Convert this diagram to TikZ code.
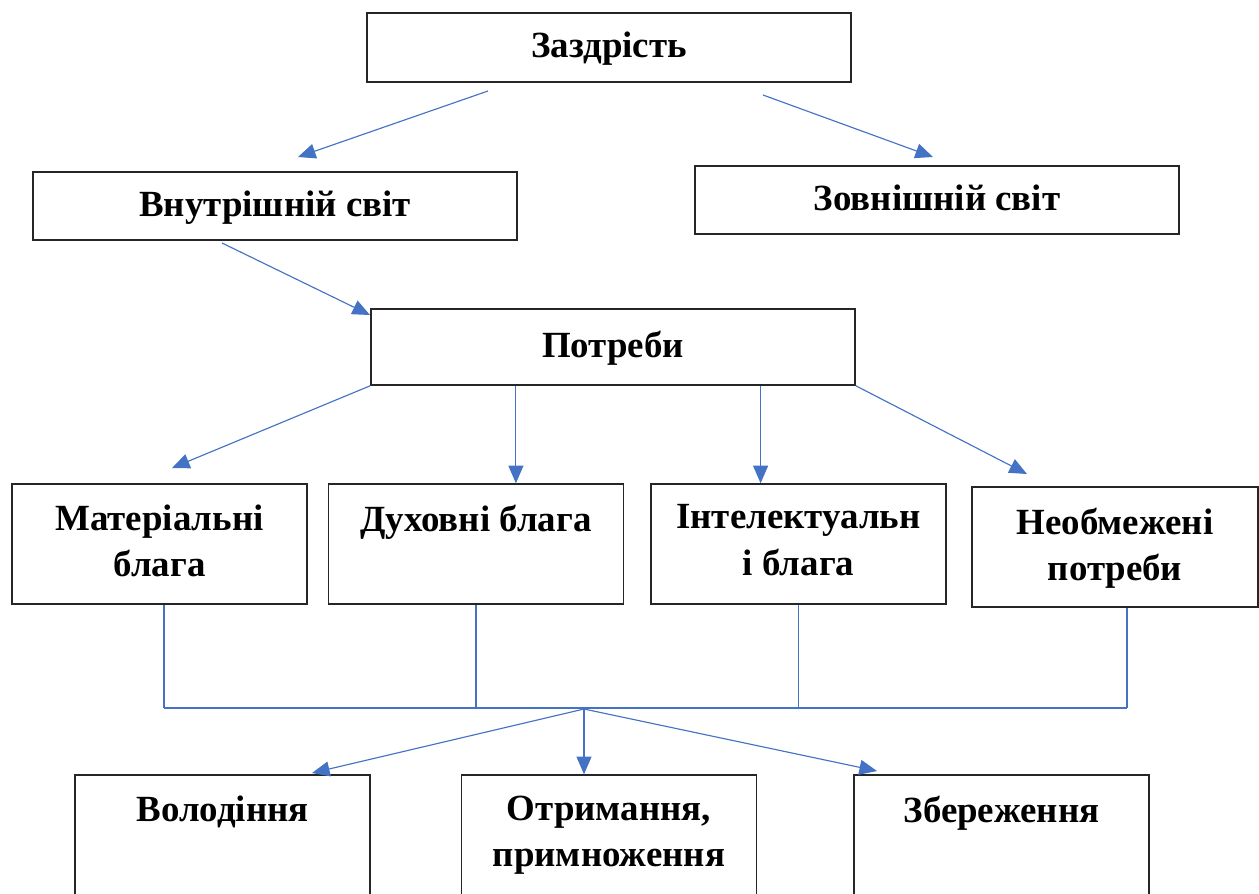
\documentclass[tikz,border=0pt]{standalone}
\usepackage{fontspec}
\setmainfont{Liberation Serif}
\usepackage{tikz}
\usetikzlibrary{positioning}
\usetikzlibrary{arrows.meta}
\usetikzlibrary{calc}

\definecolor{linkblue}{HTML}{4472C4}

\begin{document}
\begin{tikzpicture}[
    font=\fontsize{21}{26.6}\selectfont\bfseries,
    wide/.style={rectangle, draw=black!85, line width=0.85pt, minimum width=9.68cm, minimum height=1.38cm, inner sep=0pt, text height=1.15em, text depth=0pt},
    cell/.style={rectangle, draw=black!85, line width=0.85pt, minimum width=5.9cm, minimum height=2.4cm, inner sep=0pt},
    lbl/.style={anchor=north, inner sep=0pt, yshift=-0.42cm, align=center},
    link/.style={draw=linkblue, line width=0.65pt},
    arr/.style={link, -{Triangle[length=10pt, width=8.5pt]}}
]
    \useasboundingbox (0,0) rectangle (25.18,-17.86);
    \clip (0,0) rectangle (25.18,-17.86);

    % Top boxes
    \node[wide] (zazd) at (12.18,-0.95) {Заздрість};
    \node[wide, minimum height=1.36cm] (vnut) at (5.50,-4.12) {Внутрішній світ};
    \node[wide, minimum height=1.36cm] (zovn) at (18.74,-4.00) {Зовнішній світ};
    \node[wide, minimum height=1.52cm] (potr) at (12.26,-6.94) {Потреби};

    % Kinds of goods
    \node[cell, label={[lbl]north:Матеріальні\\блага}] (mat) at (3.19,-10.88) {};
    \node[cell, label={[lbl]north:Духовні блага}] (duh) [right=0.4cm of mat] {};
    \node[cell, label={[lbl]north:Інтелектуальн\\і блага}] (intel) [right=0.52cm of duh] {};
    \node[cell, minimum width=5.72cm, label={[lbl]north:Необмежені\\потреби}] (neob) at (22.30,-10.94) {};

    % Bottom row
    \node[cell, label={[lbl]north:Володіння}] (vol) at (4.45,-16.70) {};
    \node[cell, label={[lbl]north:Отримання,\\примноження}] (otr) [right=1.8cm of vol] {};
    \node[cell, label={[lbl]north:Збереження}] (zber) [right=1.92cm of otr] {};

    % Free ends of the arrows
    \coordinate (z-l) at (9.76,-1.82);
    \coordinate (z-r) at (15.26,-1.90);
    \coordinate (v-s) at (4.44,-4.86);
    \coordinate (t1) at (5.96,-3.14);
    \coordinate (t2) at (18.66,-3.14);
    \coordinate (t3) at (7.40,-6.30);
    \coordinate (t4) at (3.44,-9.36);
    \coordinate (t7) at (20.54,-9.48);
    \coordinate (p-a) at ($(potr.south west)!0.3!(potr.south east)$);
    \coordinate (p-b) at ($(potr.south west)!0.804!(potr.south east)$);

    \draw[arr] (z-l) -- (t1);
    \draw[arr] (z-r) -- (t2);
    \draw[arr] (v-s) -- (t3);
    \draw[arr] (potr.south west) -- (t4);
    \draw[arr] (p-a) -- (p-a |- duh.north);
    \draw[arr] (p-b) -- (p-b |- intel.north);
    \draw[arr] (potr.south east) -- (t7);

    % Collecting line
    \coordinate (bus-l) at (3.28,-14.16);
    \coordinate (bus-r) at (22.54,-14.16);
    \coordinate (hub) at (11.68,-14.18);
    \draw[link] (bus-l) -- (bus-r);
    \draw[link] (mat.south -| bus-l) -- (bus-l);
    \draw[link] (duh.south) -- (duh.south |- bus-l);
    \draw[link] (intel.south) -- (intel.south |- bus-l);
    \draw[link] (neob.south -| bus-r) -- (bus-r);

    \coordinate (t8) at (6.24,-15.46);
    \coordinate (t10) at (17.54,-15.42);
    \draw[arr] (hub) -- (t8);
    \draw[arr] (hub) -- (hub |- otr.north);
    \draw[arr] (hub) -- (t10);
\end{tikzpicture}
\end{document}
